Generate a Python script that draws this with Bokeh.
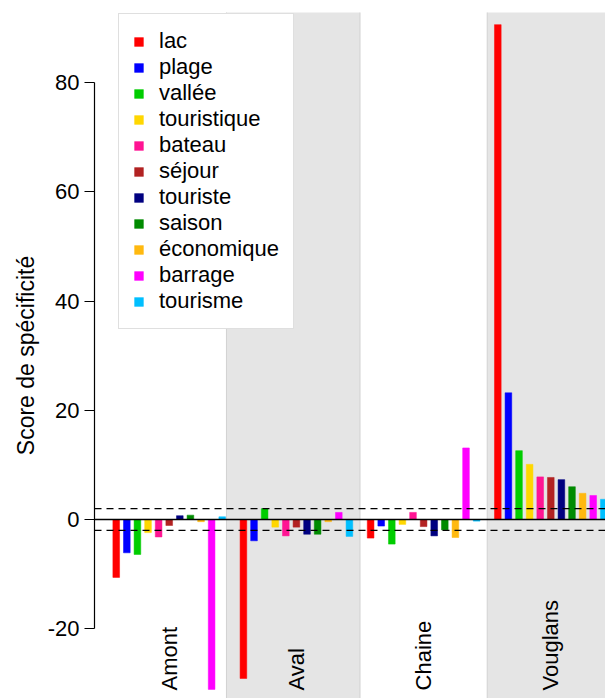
import math
from bokeh.plotting import figure
from bokeh.models import Legend, LegendItem, Span, FixedTicker, ColumnDataSource
from bokeh.core.properties import value
from bokeh.embed import file_html
from bokeh.resources import INLINE

groups = ["Amont", "Aval", "Chaine", "Vouglans"]
words = ["lac", "plage", "vallée", "touristique", "bateau", "séjour",
         "touriste", "saison", "économique", "barrage", "tourisme"]
colors = ["#FF0000", "#0000FF", "#00CD00", "#FFD700", "#FF1493", "#B22222",
          "#000080", "#008B00", "#FFB90F", "#FF00FF", "#00BFFF"]
amont = [-10.6, -6.1, -6.4, -2.4, -3.2, -1.1, 0.7, 0.8, -0.4, -31.1, 0.5]
aval = [-29.1, -3.9, 2.0, -1.4, -3.0, -1.4, -2.7, -2.7, -0.4, 1.3, -3.1]
chaine = [-3.4, -1.2, -4.5, -0.9, 1.3, -1.3, -3.0, -1.9, -3.3, 13.1, -0.3]
vouglans = [90.6, 23.2, 12.6, 10.1, 7.8, 7.7, 7.3, 6.0, 4.8, 4.4, 3.7]
y_ticks = [-20, 0, 20, 40, 60, 80]
threshold = 2
y_label = "Score de spécificité"

series = [amont, aval, chaine, vouglans]
n_words = len(words)
step = n_words + 1          # one empty slot between groups (R barplot beside=TRUE)

def bar_x(g, i):
    return step * g + 1.5 + i

FONT = "Liberation Sans"

p = figure(width=605, height=698, output_backend="svg", toolbar_location=None,
           x_range=(-0.55, 47.66), y_range=(-32.77, 92.82),
           x_axis_location=None, min_border_left=94, min_border_right=0,
           min_border_top=12, min_border_bottom=0)
p.outline_line_color = None
p.xgrid.visible = False
p.ygrid.visible = False
p.background_fill_color = "white"
p.border_fill_color = "white"

# shaded bands behind alternate groups (Aval, Vouglans)
band_left = [bar_x(1, 0) - 1.6, bar_x(3, 0) - 1.0]
band_right = [bar_x(1, n_words - 1) + 1.0, bar_x(3, n_words - 1) + 20]
p.quad(left=band_left, right=band_right, bottom=-200, top=300,
       fill_color="#E5E5E5", line_color="#D2D2D2", line_width=1)

renderers = []
for i, w in enumerate(words):
    src = ColumnDataSource(dict(x=[bar_x(g, i) for g in range(len(groups))],
                                top=[s[i] for s in series]))
    r = p.vbar(x="x", top="top", bottom=0, width=0.63, source=src,
               fill_color=colors[i], line_color=colors[i], line_width=0.5)
    renderers.append(r)

p.add_layout(Span(location=0, dimension="width", line_color="black", line_width=1.3))
for t in (threshold, -threshold):
    p.add_layout(Span(location=t, dimension="width", line_color="black",
                      line_width=1.3, line_dash="7 5"))

# group labels
p.text(x=[bar_x(g, 5) for g in range(len(groups))], y=[-31.3] * len(groups), text=groups,
       angle=math.pi / 2, text_align="left", text_baseline="middle",
       text_font=value(FONT), text_font_size="22px", text_color="black")

# y axis
ax = p.yaxis[0]
ax.ticker = FixedTicker(ticks=y_ticks)
ax.major_label_overrides = {t: str(t) for t in y_ticks}
ax.bounds = (min(y_ticks), max(y_ticks))
ax.minor_tick_line_color = None
ax.major_tick_in = 0
ax.major_tick_out = 10
ax.major_label_standoff = 5
ax.axis_line_color = "black"
ax.major_tick_line_color = "black"
ax.axis_line_width = 1.2
ax.major_tick_line_width = 1.2
ax.major_label_text_font = FONT
ax.major_label_text_font_size = "22px"
ax.major_label_text_color = "black"
ax.axis_label = y_label
ax.axis_label_text_font = FONT
ax.axis_label_text_font_size = "23px"
ax.axis_label_text_font_style = "normal"
ax.axis_label_text_color = "black"
ax.axis_label_standoff = 6

legend = Legend(items=[LegendItem(label=w, renderers=[r]) for w, r in zip(words, renderers)],
                location=(24, 369))
legend.label_text_font = FONT
legend.label_text_font_size = "22px"
legend.label_text_color = "black"
legend.glyph_width = 11
legend.glyph_height = 11
legend.label_height = 26
legend.spacing = 0
legend.padding = 14
legend.margin = 0
legend.label_standoff = 15
legend.border_line_color = "#BFBFBF"
legend.border_line_width = 1
legend.background_fill_color = "white"
legend.background_fill_alpha = 1
p.add_layout(legend, "center")

open("out.html", "w").write(file_html(p, INLINE))
